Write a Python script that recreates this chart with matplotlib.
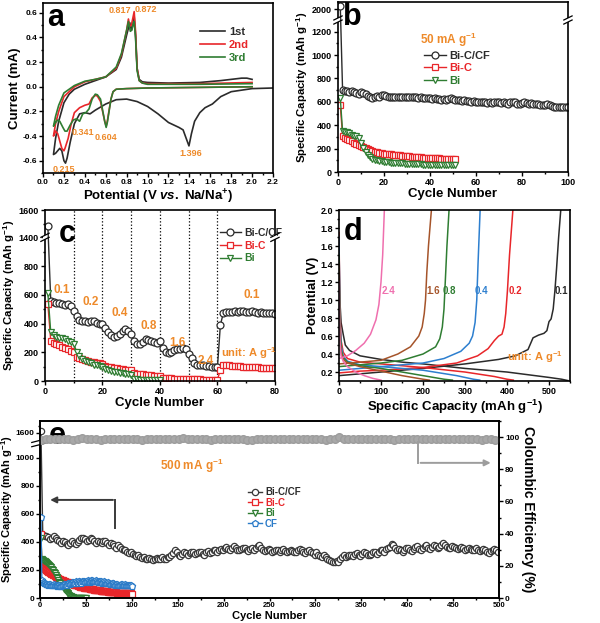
import numpy as np
import matplotlib
matplotlib.use('Agg')
import matplotlib.pyplot as plt
from matplotlib.ticker import MultipleLocator, FixedLocator, FormatStrFormatter

plt.rcParams['font.family'] = ['Liberation Sans', 'DejaVu Sans']
plt.rcParams['font.weight'] = 'bold'
plt.rcParams['axes.labelweight'] = 'bold'
plt.rcParams['mathtext.fontset'] = 'custom'
plt.rcParams['mathtext.rm'] = 'Liberation Sans:bold'
plt.rcParams['mathtext.it'] = 'Liberation Sans:italic:bold'
plt.rcParams['mathtext.bf'] = 'Liberation Sans:bold'
plt.rcParams['axes.linewidth'] = 1.2

ORANGE = '#ee8a2a'
BLACK = '#2b2b2b'
RED = '#e8262a'
GREEN = '#2f7d32'
BLUE = '#2b7bc8'

# ---- panel a: CV curves (cathodic / anodic scans)
cv1_cat_v = [2.2, 2.0, 1.8, 1.7, 1.62, 1.55, 1.5, 1.45, 1.42, 1.396, 1.37, 1.34, 1.3, 1.2, 1.1, 1.0, 0.9, 0.8, 0.7, 0.6,
             0.5, 0.45, 0.4, 0.35, 0.3, 0.26, 0.23, 0.215, 0.2, 0.18, 0.16, 0.14, 0.12, 0.1]
cv1_cat_i = [-0.01, -0.015, -0.04, -0.08, -0.14, -0.17, -0.21, -0.28, -0.38, -0.48, -0.42, -0.35, -0.33, -0.29, -0.22, -0.16, -0.12, -0.10, -0.105, -0.14,
             -0.19, -0.22, -0.21, -0.22, -0.3, -0.45, -0.58, -0.62, -0.6, -0.52, -0.5, -0.52, -0.54, -0.55]
cv1_ano_v = [0.1, 0.12, 0.15, 0.2, 0.25, 0.3, 0.4, 0.5, 0.6, 0.7, 0.75, 0.8, 0.83, 0.845, 0.86, 0.872, 0.885, 0.9, 0.92, 0.95,
             1.0, 1.2, 1.5, 1.7, 1.8, 1.9, 1.95, 2.0]
cv1_ano_i = [-0.55, -0.42, -0.28, -0.13, -0.06, -0.02, 0.02, 0.05, 0.08, 0.14, 0.24, 0.42, 0.52, 0.46, 0.5, 0.57, 0.42, 0.15, 0.06, 0.04,
             0.035, 0.03, 0.035, 0.05, 0.06, 0.07, 0.07, 0.06]
cv2_cat_v = [2.0, 1.5, 1.0, 0.8, 0.7, 0.67, 0.65, 0.63, 0.615, 0.604, 0.59, 0.57, 0.55, 0.52, 0.5, 0.47, 0.44, 0.4, 0.35, 0.3,
             0.27, 0.24, 0.21, 0.2, 0.18, 0.16, 0.14, 0.12, 0.1]
cv2_cat_i = [0.0, -0.005, -0.01, -0.015, -0.02, -0.04, -0.1, -0.2, -0.28, -0.32, -0.28, -0.2, -0.12, -0.075, -0.07, -0.09, -0.14, -0.15, -0.17, -0.21,
             -0.3, -0.42, -0.5, -0.52, -0.5, -0.44, -0.38, -0.36, -0.4]
cv2_ano_v = [0.1, 0.12, 0.15, 0.2, 0.3, 0.4, 0.5, 0.6, 0.7, 0.75, 0.8, 0.817, 0.83, 0.845, 0.86, 0.872, 0.885, 0.9, 0.92, 0.95,
             1.0, 1.5, 2.0]
cv2_ano_i = [-0.4, -0.3, -0.2, -0.08, 0.0, 0.04, 0.06, 0.08, 0.15, 0.26, 0.46, 0.55, 0.49, 0.5, 0.56, 0.61, 0.45, 0.15, 0.05, 0.03,
             0.025, 0.025, 0.035]
cv3_cat_v = [2.0, 1.5, 1.0, 0.8, 0.7, 0.67, 0.65, 0.63, 0.615, 0.604, 0.59, 0.57, 0.55, 0.52, 0.5, 0.47, 0.44, 0.41, 0.38, 0.35,
             0.32, 0.29, 0.26, 0.23, 0.21, 0.19, 0.16, 0.14, 0.12, 0.1]
cv3_cat_i = [0.0, -0.005, -0.01, -0.015, -0.02, -0.04, -0.1, -0.21, -0.29, -0.33, -0.28, -0.19, -0.1, -0.065, -0.06, -0.1, -0.18, -0.21, -0.22, -0.28,
             -0.26, -0.27, -0.31, -0.36, -0.36, -0.33, -0.28, -0.27, -0.29, -0.32]
cv3_ano_v = [0.1, 0.12, 0.15, 0.2, 0.3, 0.4, 0.5, 0.6, 0.7, 0.75, 0.8, 0.817, 0.835, 0.85, 0.865, 0.872, 0.885, 0.9, 0.92, 0.95,
             1.0, 1.5, 2.0]
cv3_ano_i = [-0.32, -0.24, -0.15, -0.05, 0.01, 0.045, 0.06, 0.08, 0.16, 0.27, 0.46, 0.53, 0.45, 0.46, 0.52, 0.53, 0.4, 0.13, 0.05, 0.03,
             0.02, 0.02, 0.025]
peak_labels = ['0.817', '0.872', '0.215', '0.341', '0.604', '1.396']
peak_pos = [(0.74, 0.615), (0.98, 0.63), (0.2, -0.675), (0.38, -0.37), (0.6, -0.41), (1.41, -0.54)]

# ---- panel b: 50 mA/g cycling
b_cf = [2025, 700, 695, 690, 685, 690, 680, 675, 670, 680,
        675, 670, 650, 640, 635, 640, 650, 645, 655, 660,
        650, 645, 640, 640, 645, 645, 640, 645, 640, 640,
        645, 640, 638, 640, 635, 640, 635, 630, 635, 630,
        625, 630, 625, 628, 620, 625, 620, 625, 630, 625,
        620, 620, 615, 610, 615, 610, 605, 600, 605, 600,
        600, 595, 600, 595, 590, 595, 590, 595, 600, 595,
        590, 595, 590, 585, 595, 600, 595, 585, 580, 590,
        595, 590, 585, 590, 580, 585, 580, 575, 570, 575,
        580, 575, 565, 560, 555, 560, 555, 560, 555, 560]
b_bic = [570, 310, 295, 282, 272, 262, 252, 242, 232, 222,
         212, 203, 195, 188, 181, 175, 170, 166, 162, 158,
         155, 152, 150, 148, 146, 144, 142, 140, 138, 136,
         134, 132, 131, 129, 127, 126, 124, 123, 121, 120,
         119, 118, 117, 116, 115, 114, 113, 112, 111, 110, 110]
b_bi = [630, 350, 345, 340, 330, 320, 312, 305, 295, 250,
        205, 170, 145, 128, 115, 106, 99, 94, 90, 87,
        84, 82, 80, 78, 76, 75, 74, 73, 72, 71,
        70, 69, 68, 67, 66, 65, 64, 64, 63, 62,
        62, 61, 60, 60, 59, 59, 58, 58, 57, 57, 57]

# ---- panel c: rate capability
c_cf = [1480, 560, 550, 545, 540, 535, 530, 535, 520, 490,
        450, 425, 415, 415, 410, 420, 415, 405, 400, 400,
        370, 340, 320, 305, 315, 330, 350, 360, 350, 330,
        280, 255, 260, 275, 290, 285, 280, 270, 265, 280,
        230, 200, 195, 205, 215, 220, 225, 230, 220, 190,
        160, 125, 115, 110, 110, 105, 105, 100, 100, 100,
        390, 470, 480, 480, 480, 485, 480, 485, 485, 480,
        480, 485, 480, 475, 480, 475, 475, 470, 470, 465]
c_bic = [535, 280, 265, 255, 248, 240, 232, 225, 212, 200,
         165, 158, 150, 145, 140, 135, 130, 126, 122, 118,
         105, 100, 96, 92, 89, 86, 83, 80, 78, 75,
         55, 52, 49, 46, 44, 42, 40, 38, 36, 34,
         22, 20, 19, 18, 17, 16, 16, 15, 15, 14,
         12, 12, 11, 11, 10, 10, 10, 9, 9, 9,
         80, 115, 112, 110, 108, 106, 104, 102, 100, 99,
         98, 97, 96, 95, 94, 93, 92, 91, 90, 88]
c_bi = [610, 340, 318, 308, 302, 296, 290, 282, 270, 255,
        205, 175, 155, 140, 130, 122, 115, 110, 104, 98,
        85, 77, 71, 66, 61, 57, 53, 49, 46, 42,
        15, 12, 10, 8, 7, 6, 5, 5, 4, 4]
rate_labels = ['0.1', '0.2', '0.4', '0.8', '1.6', '2.4', '0.1']
rate_pos = [(6, 635), (16, 552), (26, 470), (36, 380), (46, 262), (56, 140), (72, 600)]

# ---- panel d: charge/discharge profiles at each rate (A/g)
d_rates = ['0.1', '0.2', '0.4', '0.8', '1.6', '2.4']
d_colors = [BLACK, '#e8262a', '#2d7fcf', '#2f7d32', '#a5542a', '#ef6fae']
d_dis_cap = [[0, 2, 5, 10, 15, 25, 50, 100, 150, 200, 300, 400, 450, 500, 530, 545],
             [0, 2, 5, 10, 20, 50, 100, 200, 300, 370, 400, 415],
             [0, 2, 5, 10, 20, 50, 100, 200, 280, 320, 335],
             [0, 2, 5, 10, 20, 50, 100, 200, 250, 270],
             [0, 2, 5, 10, 20, 50, 100, 150, 200, 215],
             [0, 2, 5, 10, 20, 40, 60, 80, 100]]
d_dis_v = [[1.6, 1.0, 0.75, 0.62, 0.5, 0.44, 0.38, 0.34, 0.31, 0.29, 0.24, 0.2, 0.17, 0.14, 0.12, 0.105],
           [1.75, 0.9, 0.55, 0.42, 0.35, 0.31, 0.29, 0.25, 0.2, 0.15, 0.12, 0.11],
           [1.7, 0.8, 0.5, 0.38, 0.32, 0.28, 0.26, 0.22, 0.16, 0.12, 0.11],
           [1.5, 0.7, 0.45, 0.36, 0.31, 0.27, 0.24, 0.16, 0.12, 0.11],
           [1.4, 0.6, 0.42, 0.34, 0.3, 0.26, 0.21, 0.16, 0.12, 0.11],
           [1.2, 0.55, 0.38, 0.32, 0.26, 0.2, 0.16, 0.13, 0.11]]
d_ch_cap = [[0, 50, 100, 200, 300, 380, 420, 450, 462, 475, 488, 495, 500, 505, 510, 514, 518, 523, 528],
            [0, 50, 100, 200, 280, 330, 355, 370, 380, 388, 393, 397, 401, 406, 414],
            [0, 50, 100, 200, 250, 290, 310, 318, 324, 328, 331, 336],
            [0, 50, 100, 150, 200, 230, 240, 246, 250, 253, 257, 262],
            [0, 50, 100, 140, 170, 190, 198, 203, 206, 209, 213, 220],
            [0, 20, 40, 60, 75, 88, 95, 100, 104, 108]]
d_ch_v = [[0.16, 0.18, 0.2, 0.24, 0.29, 0.34, 0.38, 0.45, 0.58, 0.61, 0.63, 0.66, 0.76, 0.79, 0.9, 1.1, 1.35, 1.7, 2.0],
          [0.19, 0.21, 0.22, 0.25, 0.3, 0.38, 0.46, 0.55, 0.6, 0.62, 0.7, 0.85, 1.1, 1.5, 2.0],
          [0.22, 0.24, 0.26, 0.3, 0.35, 0.43, 0.52, 0.6, 0.75, 1.0, 1.4, 2.0],
          [0.26, 0.28, 0.3, 0.33, 0.4, 0.48, 0.57, 0.7, 0.9, 1.2, 1.6, 2.0],
          [0.29, 0.31, 0.33, 0.4, 0.48, 0.6, 0.7, 0.85, 1.0, 1.3, 1.6, 2.0],
          [0.35, 0.38, 0.44, 0.52, 0.62, 0.78, 0.95, 1.2, 1.5, 2.0]]
d_label_x = [530, 420, 340, 262, 225, 117]

# ---- panel e: 500 mA/g long cycling
e_cf_cycles = np.arange(1, 501, 2)
e_cf = [1610, 450, 440, 445, 435, 420, 425, 440, 430, 415,
        405, 395, 410, 400, 385, 380, 395, 405, 395, 385,
        400, 415, 425, 430, 420, 405, 415, 425, 420, 405,
        395, 410, 400, 390, 405, 410, 395, 380, 390, 385,
        370, 360, 375, 365, 350, 340, 345, 330, 320, 325,
        315, 305, 300, 310, 295, 285, 290, 280, 275, 285,
        280, 270, 280, 285, 275, 280, 290, 280, 275, 290,
        295, 305, 320, 340, 330, 310, 300, 315, 325, 320,
        310, 320, 330, 325, 315, 320, 330, 325, 315, 310,
        325, 335, 320, 330, 345, 340, 330, 340, 350, 345,
        355, 365, 350, 345, 360, 370, 355, 345, 340, 350,
        360, 355, 345, 335, 350, 360, 345, 355, 370, 380,
        360, 345, 335, 340, 350, 340, 330, 335, 345, 340,
        330, 340, 350, 335, 325, 335, 345, 335, 325, 330,
        340, 350, 345, 330, 320, 335, 345, 330, 320, 310,
        325, 310, 300, 290, 305, 295, 280, 270, 265, 260,
        255, 265, 260, 275, 290, 305, 295, 300, 310, 305,
        300, 315, 320, 310, 300, 315, 325, 320, 310, 305,
        315, 330, 325, 315, 330, 345, 340, 330, 350, 355,
        365, 385, 375, 355, 345, 350, 340, 330, 345, 355,
        360, 345, 335, 350, 365, 370, 350, 340, 355, 370,
        375, 360, 350, 365, 380, 370, 355, 365, 380, 390,
        375, 365, 355, 360, 370, 365, 355, 350, 360, 365,
        355, 345, 350, 360, 350, 340, 345, 355, 345, 335,
        340, 350, 345, 330, 320, 335, 345, 350, 340, 330]
e_short_cycles = np.arange(1, 101)
e_bic = [460, 225, 220, 214, 208, 203, 198, 193, 188, 183,
         178, 173, 169, 165, 161, 157, 153, 149, 145, 142,
         138, 135, 132, 129, 126, 123, 120, 117, 115, 112,
         110, 107, 105, 103, 100, 98, 96, 94, 92, 90,
         88, 86, 84, 82, 80, 79, 77, 75, 74, 72,
         71, 69, 68, 66, 65, 64, 62, 61, 60, 59,
         58, 57, 56, 55, 54, 53, 52, 51, 50, 49,
         48, 47, 47, 46, 45, 44, 44, 43, 42, 42,
         41, 40, 40, 39, 39, 38, 38, 37, 37, 36,
         36, 35, 35, 35, 34, 34, 33, 33, 33, 32]
e_bi_cycles = np.arange(1, 51)
e_bi = [430, 275, 270, 265, 262, 258, 255, 250, 245, 238,
        230, 220, 210, 200, 188, 176, 164, 152, 140, 128,
        117, 106, 96, 86, 76, 67, 58, 50, 42, 35,
        28, 22, 16, 11, 7, 4, 2, 1, 0, 0,
        0, 0, 0, 0, 0, 0, 0, 0, 0, 0]
e_cfonly = [580, 130, 115, 110, 105, 100, 102, 98, 95, 100,
            98, 95, 92, 96, 100, 95, 90, 88, 92, 95,
            92, 88, 85, 90, 95, 100, 98, 92, 95, 105,
            110, 105, 100, 108, 115, 112, 105, 110, 118, 115,
            110, 118, 122, 115, 110, 118, 125, 120, 112, 118,
            125, 130, 122, 115, 120, 128, 132, 125, 118, 122,
            128, 120, 115, 118, 125, 120, 112, 108, 115, 120,
            115, 110, 105, 112, 108, 102, 98, 105, 110, 104,
            100, 95, 98, 102, 96, 92, 95, 100, 97, 94,
            92, 95, 98, 94, 90, 93, 96, 92, 90, 88]
e_ce_cycles = np.arange(1, 501, 5)
e_ce = [98.5, 98.8, 99.0, 98.6, 98.9, 99.1, 98.7, 98.4, 98.9, 99.2,
        98.6, 98.8, 99.0, 98.5, 98.9, 98.7, 99.1, 98.8, 98.6, 98.9,
        99.0, 98.7, 98.5, 98.8, 99.1, 98.9, 98.6, 98.8, 99.0, 98.7,
        98.9, 99.2, 98.8, 98.6, 98.9, 99.0, 98.7, 98.5, 98.8, 99.0,
        98.7, 98.9, 99.1, 98.8, 98.6, 98.4, 97.9, 98.6, 98.9, 99.0,
        98.8, 98.6, 98.9, 99.1, 98.7, 98.8, 99.0, 98.6, 98.9, 98.7,
        99.0, 98.8, 98.5, 98.9, 99.1, 99.8, 98.9, 98.6, 98.8, 99.0,
        98.7, 98.9, 99.0, 98.6, 98.8, 99.1, 98.7, 98.5, 98.9, 99.0,
        98.8, 98.6, 98.9, 99.1, 98.7, 98.8, 99.0, 98.6, 98.9, 98.7,
        99.0, 98.8, 98.6, 98.9, 99.1, 98.7, 98.4, 98.8, 98.6, 98.5]


def make_break(lo, hi, k=1.0):
    def fwd(y):
        y = np.asarray(y, dtype=float)
        return np.where(y <= lo, y, np.where(y >= hi, lo + (y - hi) * k, lo))

    def inv(z):
        z = np.asarray(z, dtype=float)
        return np.where(z <= lo, z, hi + (z - lo) / k)
    return fwd, inv


def draw_break(ax, yb, sides=(0, 1)):
    d = 0.012
    for x in sides:
        ax.plot([x, x], [yb - d, yb + d], transform=ax.transAxes, color='white', lw=3,
                clip_on=False, zorder=10, solid_capstyle='butt')
        for off in (-d, d):
            ax.plot([x - 0.018, x + 0.018], [yb + off - 0.012, yb + off + 0.012],
                    transform=ax.transAxes, color='black', lw=0.9, clip_on=False, zorder=11)


def style(ax, size=6.5):
    ax.tick_params(which='both', direction='out', width=1.0, labelsize=size, pad=1.5)
    ax.tick_params(which='major', length=2.8)
    ax.tick_params(which='minor', length=1.6)


def letter(ax, s, x, y):
    ax.text(x, y, s, transform=ax.transAxes, fontsize=22, fontweight='bold',
            ha='left', va='top')


fig = plt.figure(figsize=(6, 6.23), dpi=100)

# ---------------- a
ax = fig.add_axes([0.0717, 0.7223, 0.3833, 0.2729])
for cv, ci, av, ai, col, lab in [(cv1_cat_v, cv1_cat_i, cv1_ano_v, cv1_ano_i, BLACK, '1st'),
                                 (cv2_cat_v, cv2_cat_i, cv2_ano_v, cv2_ano_i, RED, '2nd'),
                                 (cv3_cat_v, cv3_cat_i, cv3_ano_v, cv3_ano_i, GREEN, '3rd')]:
    ax.plot(cv + av, ci + ai, color=col, lw=1.2, label=lab)
for s, (x, y) in zip(peak_labels, peak_pos):
    ax.text(x, y, s, color=ORANGE, fontsize=6.5, ha='center', va='center')
ax.set_xlim(0, 2.2)
ax.set_ylim(-0.7, 0.68)
ax.xaxis.set_major_locator(MultipleLocator(0.2))
ax.xaxis.set_minor_locator(MultipleLocator(0.1))
ax.yaxis.set_major_locator(MultipleLocator(0.2))
ax.yaxis.set_minor_locator(MultipleLocator(0.1))
ax.xaxis.set_major_formatter(FormatStrFormatter('%.1f'))
ax.yaxis.set_major_formatter(FormatStrFormatter('%.1f'))
style(ax, 6)
ax.set_xlabel('Potential (V $\\mathit{vs.}$ Na/Na$^{+}$)', fontsize=9.5, labelpad=1)
ax.set_ylabel('Current (mA)', fontsize=9.5, labelpad=1)
ax.legend(loc='upper left', bbox_to_anchor=(0.64, 0.92), frameon=False, fontsize=8,
          handlelength=2.2, handletextpad=0.4, labelspacing=0.3,
          labelcolor=[BLACK, RED, GREEN])
letter(ax, 'a', 0.02, 1.0)

# ---------------- b
ax = fig.add_axes([0.5633, 0.7239, 0.3833, 0.2729])
fb, ib = make_break(1300, 1906)
ax.set_yscale('function', functions=(fb, ib))
mk = dict(ms=5, mew=0.9, mfc='white', lw=1.0)
ax.plot(np.arange(1, 101), b_cf, marker='o', color=BLACK, label='Bi-C/CF', **mk)
ax.plot(np.arange(1, 52), b_bic, marker='s', color=RED, label='Bi-C', **mk)
ax.plot(np.arange(1, 52), b_bi, marker='v', color=GREEN, label='Bi', **mk)
ax.set_xlim(0, 100)
ax.set_ylim(0, 2060)
ax.xaxis.set_major_locator(MultipleLocator(20))
ax.xaxis.set_minor_locator(MultipleLocator(10))
ax.yaxis.set_major_locator(FixedLocator([0, 200, 400, 600, 800, 1000, 1200, 2000]))
ax.yaxis.set_minor_locator(FixedLocator([100, 300, 500, 700, 900, 1100]))
style(ax)
ax.set_xlabel('Cycle Number', fontsize=9.5, labelpad=1)
ax.set_ylabel('Specific Capacity (mAh g$^{-1}$)', fontsize=8.2, labelpad=1)
ax.text(48, 1130, '50 mA g$^{-1}$', color=ORANGE, fontsize=8.5, ha='center', va='center')
ax.legend(loc='upper left', bbox_to_anchor=(0.33, 0.77), frameon=False, fontsize=8,
          handlelength=2.0, handletextpad=0.3, labelspacing=0.2,
          labelcolor=[BLACK, RED, GREEN])
draw_break(ax, 1300 / float(fb(2060)))
letter(ax, 'b', 0.02, 1.0)

# ---------------- c
ax = fig.add_axes([0.075, 0.3884, 0.3833, 0.2745])
fc, ic = make_break(1000, 1400, 0.95)
ax.set_yscale('function', functions=(fc, ic))
for xv in [10, 20, 30, 40, 50, 60]:
    ax.axvline(xv, ls=':', color='black', lw=0.9)
ax.plot(np.arange(1, 81), c_cf, marker='o', color=BLACK, label='Bi-C/CF', **mk)
ax.plot(np.arange(1, 81), c_bic, marker='s', color=RED, label='Bi-C', **mk)
ax.plot(np.arange(1, 41), c_bi, marker='v', color=GREEN, label='Bi', **mk)
for s, (x, y) in zip(rate_labels, rate_pos):
    ax.text(x, y, s, color=ORANGE, fontsize=8.5, ha='center', va='center')
ax.text(71, 195, 'unit: A g$^{-1}$', color=ORANGE, fontsize=8, ha='center', va='center')
ax.set_xlim(0, 80)
ax.set_ylim(0, 1600)
ax.xaxis.set_major_locator(MultipleLocator(20))
ax.xaxis.set_minor_locator(MultipleLocator(10))
ax.yaxis.set_major_locator(FixedLocator([0, 200, 400, 600, 800, 1400, 1600]))
ax.yaxis.set_minor_locator(FixedLocator([100, 300, 500, 700, 900, 1500]))
style(ax)
ax.set_xlabel('Cycle Number', fontsize=9.5, labelpad=1)
ax.set_ylabel('Specific Capacity (mAh g$^{-1}$)', fontsize=8.2, labelpad=1)
ax.legend(loc='upper left', bbox_to_anchor=(0.72, 0.95), frameon=False, fontsize=7.5,
          handlelength=2.0, handletextpad=0.3, labelspacing=0.25,
          labelcolor=[BLACK, RED, GREEN])
draw_break(ax, 1000 / float(fc(1600)))
letter(ax, 'c', 0.06, 0.95)

# ---------------- d
ax = fig.add_axes([0.565, 0.3884, 0.385, 0.2745])
for i in range(len(d_rates)):
    ax.plot(d_dis_cap[i], d_dis_v[i], color=d_colors[i], lw=1.1)
    ax.plot(d_ch_cap[i], d_ch_v[i], color=d_colors[i], lw=1.1)
    ax.text(d_label_x[i], 1.1, d_rates[i], color=d_colors[i], fontsize=7, ha='center', va='center')
ax.text(466, 0.37, 'unit: A g$^{-1}$', color=ORANGE, fontsize=8, ha='center', va='center')
ax.set_xlim(0, 550)
ax.set_ylim(0.1, 2.0)
ax.xaxis.set_major_locator(MultipleLocator(100))
ax.xaxis.set_minor_locator(MultipleLocator(50))
ax.yaxis.set_major_locator(FixedLocator([0.2, 0.4, 0.6, 0.8, 1.0, 1.2, 1.4, 1.6, 1.8, 2.0]))
ax.yaxis.set_minor_locator(MultipleLocator(0.1))
ax.yaxis.set_major_formatter(FormatStrFormatter('%.1f'))
style(ax)
ax.set_xlabel('Specific Capacity (mAh g$^{-1}$)', fontsize=9.5, labelpad=1)
ax.set_ylabel('Potential (V)', fontsize=9.5, labelpad=1)
letter(ax, 'd', 0.02, 0.96)

# ---------------- e
ax = fig.add_axes([0.0667, 0.0401, 0.765, 0.2841])
fe, ie = make_break(1110, 1530)
ax.set_yscale('function', functions=(fe, ie))
mk2 = dict(ms=4.5, mew=0.9, mfc='white', lw=1.0)
ax.plot(e_cf_cycles, e_cf, marker='o', color='#3a3a3a', label='Bi-C/CF', **mk2)
ax.plot(e_short_cycles, e_bic, marker='s', color=RED, label='Bi-C', **mk2)
ax.plot(e_bi_cycles, e_bi, marker='v', color=GREEN, label='Bi', **mk2)
ax.plot(e_short_cycles, e_cfonly, marker='p', color=BLUE, label='CF', **mk2)
ax.plot([82, 82], [500, 700], color='#3a3a3a', lw=1.4)
ax.annotate('', xy=(8, 700), xytext=(82.5, 700),
            arrowprops=dict(arrowstyle='-|>', color='#3a3a3a', lw=1.4, mutation_scale=9))
ax.text(165, 940, '500 mA g$^{-1}$', color=ORANGE, fontsize=8.5, ha='center', va='center')
ax.set_xlim(0, 500)
ax.set_ylim(0, 1683)
ax.xaxis.set_major_locator(MultipleLocator(50))
ax.xaxis.set_minor_locator(MultipleLocator(25))
ax.yaxis.set_major_locator(FixedLocator([0, 200, 400, 600, 800, 1000, 1600]))
ax.yaxis.set_minor_locator(FixedLocator([100, 300, 500, 700, 900, 1100, 1650]))
style(ax, 6)
ax.tick_params(axis='x', which='major', labelsize=5.5, pad=0.4, length=2.2)
ax.tick_params(axis='x', which='minor', length=1.4)
ax.tick_params(axis='y', pad=1)
ax.set_xlabel('Cycle Number', fontsize=8)
ax.xaxis.label.set_va('top')
ax.xaxis.set_label_coords(0.5, -0.072)
ax.set_ylabel('Specific Capacity (mAh g$^{-1}$)', fontsize=8, labelpad=0.5)
ax.legend(loc='upper left', bbox_to_anchor=(0.435, 0.675), frameon=False, fontsize=7,
          handlelength=1.4, handletextpad=0.3, labelspacing=0.05,
          labelcolor=[BLACK, RED, GREEN, BLUE])
draw_break(ax, 1110 / float(fe(1683)), sides=(0,))
letter(ax, 'e', 0.02, 1.0)

ax2 = ax.twinx()
ax2.plot(e_ce_cycles, e_ce, marker='o', color='#9d9d9d', mfc='#a8a8a8', ms=5.5, lw=2)
ax2.plot([412, 412], [97, 84], color='#9d9d9d', lw=1.4)
ax2.annotate('', xy=(494, 84), xytext=(411.5, 84),
             arrowprops=dict(arrowstyle='-|>', color='#9d9d9d', lw=1.4, mutation_scale=9))
ax2.set_ylim(0, 110)
ax2.yaxis.set_major_locator(MultipleLocator(20))
ax2.yaxis.set_minor_locator(MultipleLocator(10))
style(ax2, 6)
ax2.set_ylabel('Coloumbic Efficiency (%)', fontsize=10, rotation=270, labelpad=11)

fig.savefig('out.png', dpi=100)
